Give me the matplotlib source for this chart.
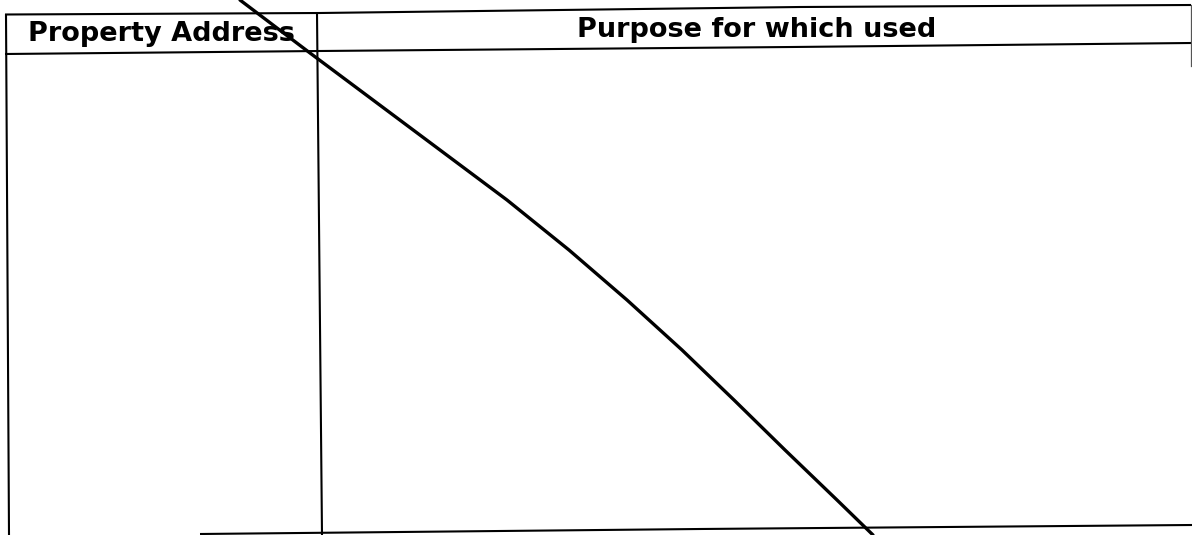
import matplotlib
matplotlib.use("Agg")
from matplotlib import pyplot as plt

# page size in pixels (scan coordinates, y grows downward)
W, H = 1192, 535

# table frame
top_x = [5, 320, 800, 1191]
top_y = [14.5, 13, 7, 5]
head_x = [5, 320, 792, 1191]
head_y = [54, 51, 47, 43]
bottom_x = [200, 700, 1192]
bottom_y = [534, 529, 525]
left_x = [6, 9]
left_y = [14, 535]
divider_x = [317, 322]
divider_y = [13, 535]
right_x = [1191, 1191]
right_y = [5, 66]

# the hand-drawn stroke through the page
stroke_x = [240, 310, 373, 440, 507, 569, 627, 682, 734, 785, 837, 873]
stroke_y = [0, 53, 100, 150, 200, 250, 300, 350, 400, 450, 500, 535]

headers = ["Property Address", "Purpose for which used"]
header_x = [28, 577]
header_y = [41, 37]

fig = plt.figure(figsize=(W / 100, H / 100), dpi=100)
ax = fig.add_axes([0, 0, 1, 1])
ax.set_xlim(0, W)
ax.set_ylim(H, 0)
ax.axis("off")

for xs, ys in [(top_x, top_y), (head_x, head_y), (bottom_x, bottom_y),
               (left_x, left_y), (divider_x, divider_y)]:
    ax.plot(xs, ys, color="black", linewidth=1.5, solid_capstyle="butt")
ax.plot(right_x, right_y, color="#555555", linewidth=0.9)

ax.plot(stroke_x, stroke_y, color="black", linewidth=2.4,
        solid_capstyle="round", solid_joinstyle="round")

for label, x, y in zip(headers, header_x, header_y):
    ax.text(x, y, label, fontsize=19.5, fontweight="heavy", family="DejaVu Sans",
            ha="left", va="baseline", color="black")

fig.savefig("out.png", dpi=100)
